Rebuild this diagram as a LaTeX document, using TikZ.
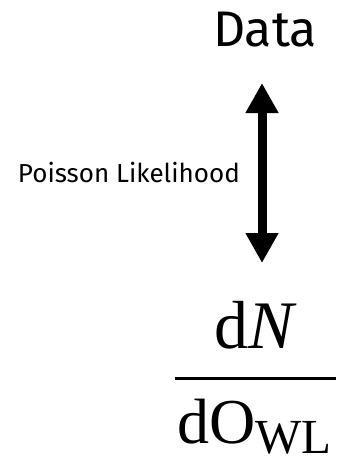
\documentclass[tikz,border=0pt]{standalone}
\usepackage{fontspec}
\setmainfont{Liberation Serif}
\newfontfamily\labelfont{Fira Sans}
\usetikzlibrary{arrows.meta}

\begin{document}
\begin{tikzpicture}[x=1pt, y=-1pt, inner sep=0pt]

\useasboundingbox (0,0) rectangle (337,460);

% ═══════════════════════════════════════
% DATOS (arriba)
% ═══════════════════════════════════════

\node[anchor=base, font=\labelfont\fontsize{50}{60}\selectfont]
    (data) at (265,47) {Data};

% ═══════════════════════════════════════
% FLECHA DOBLE + VEROSIMILITUD
% ═══════════════════════════════════════

\coordinate (tipup) at (262,83);
\coordinate (tipdown) at (262,263);

\draw[line width=9pt,
      {Triangle[width=31pt, length=30pt]}-{Triangle[width=31pt, length=30pt]}]
    (tipup) -- (tipdown);

\node[anchor=base east, font=\labelfont\fontsize{26}{30}\selectfont]
    (like) at (240,182) {Poisson Likelihood};

% ═══════════════════════════════════════
% ESPECTRO dN/dO_WL (abajo)
% ═══════════════════════════════════════

\node[anchor=base west, font=\fontsize{68}{72}\selectfont]
    (num) at (214,348) {d\textit{N}};

\coordinate (barL) at (175,378);
\coordinate (barR) at (336,378);
\draw[line width=3pt] (barL) -- (barR);

\node[anchor=base west, font=\fontsize{64}{70}\selectfont]
    (den) at (177,443)
    {dO\raisebox{-10pt}[\height][0pt]{\fontsize{49}{52}\selectfont WL}};

\end{tikzpicture}
\end{document}
